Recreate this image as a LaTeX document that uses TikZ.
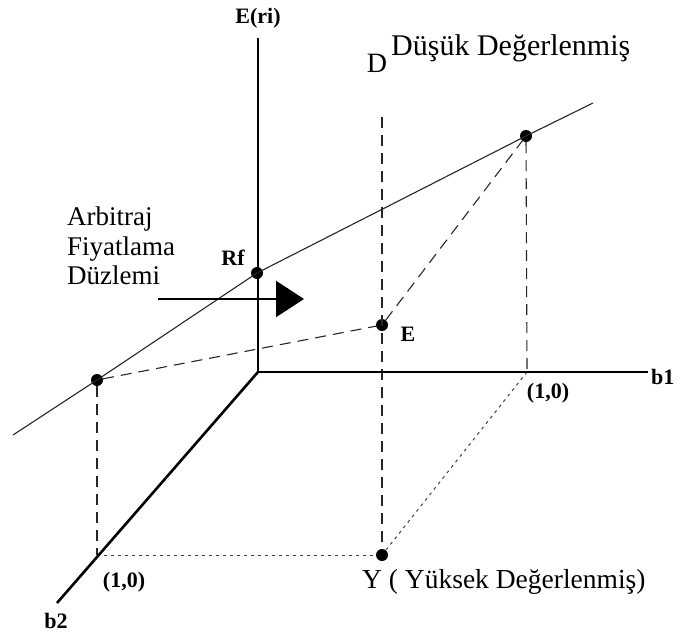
\documentclass[tikz,border=0pt]{standalone}
\usepackage{fontspec}
\setmainfont{Liberation Serif}
\usetikzlibrary{arrows.meta, positioning}
\tikzset{
  axisline/.style={draw=black, line width=2.6pt},
  plane/.style={draw=black!85, line width=1.1pt},
  proj/.style={draw=black!85, line width=1.1pt, dash pattern=on 11pt off 7pt},
  floor/.style={draw=black!75, line width=1pt, dash pattern=on 3pt off 4pt},
  pdot/.style={circle, fill=black, inner sep=0pt, minimum size=12pt},
  tag/.style={font=\bfseries\fontsize{22}{24}\selectfont, inner sep=1pt},
  note/.style={font=\fontsize{27}{29.5}\selectfont, inner sep=0pt},
  pointer/.style={draw=black, line width=2.2pt, -{Triangle[length=28pt, width=36pt]}},
}

\begin{document}
\begin{tikzpicture}[x=1pt, y=-1pt]
\useasboundingbox (0,0) rectangle (677,634);
% axes
\coordinate (o) at (258,372);
\coordinate (etop) at (258,38);
\coordinate (b1end) at (648,372);
\coordinate (b2end) at (57,603);
\coordinate (p1) at (527,372);
\coordinate (p2) at (97,555);
\coordinate (dtop) at (382,117);
\coordinate (pleft) at (13,435);
\coordinate (pright) at (593,103);
\node[pdot] (rf) at (257,273) {};
\node[pdot] (lp) at (97,380) {};
\node[pdot] (ep) at (382,325) {};
\node[pdot] (tp) at (526,136) {};
\node[pdot] (yp) at (382,555) {};
% projections
\draw[proj] (dtop) -- (yp);
\draw[proj] (lp) -- (ep) -- (tp);
\draw[proj] (tp) -- (p1);
\draw[proj] (lp) -- (p2);
\draw[floor] (p1) -- (yp);
\draw[floor] (p2) -- (yp);
\draw[axisline] (o) -- (etop);
\draw[axisline] (o) -- (b1end);
\draw[axisline] (o) -- (b2end);
% the plane
\draw[plane] (pleft) -- (lp.center) -- (rf.center) -- (tp.center) -- (pright);
% labels
\node[tag] (eri) at (258,18) {E(ri)};
\node[tag] (rfl) at (233,258) {Rf};
\node[tag] (el) at (408,334) {E};
\node[tag] (onea) at (548,393) {(1,0)};
\node[tag] (oneb) at (124,582) {(1,0)};
\node[tag] (b2l) at (56,621) {b2};
\node[tag, anchor=west] (b1l) at (650,377) {b1};
\node[note, font=\fontsize{28}{30}\selectfont, anchor=base] (dl) at (377,73) {D};
\node[note, font=\fontsize{30}{32}\selectfont, anchor=base west] (dus) at (391,56) {Düşük Değerlenmiş};
\node[note, font=\fontsize{27.5}{30}\selectfont, anchor=base west] (yuk) at (362,588) {Y ( Yüksek Değerlenmiş)};
\node[note, align=left, anchor=north west] (apt) at (67,207) {Arbitraj\\Fiyatlama\\Düzlemi};
% arrow to the plane
\coordinate (arrs) at (158,299);
\coordinate (arre) at (304,299);
\draw[pointer] (arrs) -- (arre);
\end{tikzpicture}
\end{document}
